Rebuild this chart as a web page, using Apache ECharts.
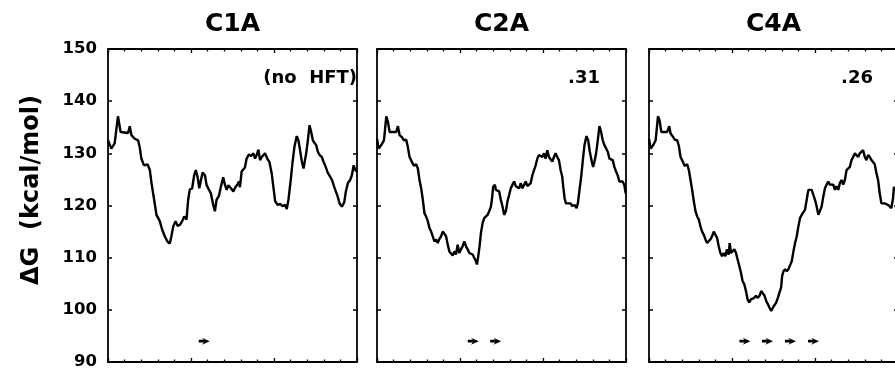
<!DOCTYPE html>
<html><head><meta charset="utf-8">
<script src="https://cdn.jsdelivr.net/npm/echarts@6/dist/echarts.min.js"></script>
<style>html,body{margin:0;padding:0;background:#fff}#c{width:895px;height:369px}</style>
</head><body><div id="c"></div>
<script>
// ---- data ----
const panelTitles = ['C1A', 'C2A', 'C4A'];
const panelNotes = ['(no  HFT)', '.31', '.26'];
const yName = 'ΔG  (kcal/mol)';
const yMin = 90, yMax = 150, yStep = 10;
const xMin = 0, xMax = 150;

const c1aX = [0,2.0,4.0,6.0,7.6,8.1,12.1,13.1,14.1,16.1,17.1,18.1,19.1,20.1,21.7,23.8,25.2,26.2,27.8,29.2,31.2,32.6,34.2,35.8,37.2,38.2,39.3,40.7,41.9,43.3,44.7,45.9,47.3,48.3,49.3,50.7,51.9,52.9,54.0,55.0,56.0,57.0,58.4,59.4,60.4,62.0,63.4,64.4,65.4,66.8,68.0,69.4,70.5,71.5,72.5,74.1,75.5,76.9,78.1,78.9,79.5,80.5,81.5,82.5,83.5,84.9,86.2,87.6,88.6,89.6,90.6,91.6,92.6,93.6,94.6,96.2,97.2,98.6,99.6,100.7,102.3,103.7,105.1,106.7,107.7,108.7,110.1,111.1,112.3,113.7,114.7,115.7,116.8,117.8,118.4,119.4,120.4,121.4,122.4,123.4,124.4,125.4,126.4,127.4,128.8,129.8,130.8,132.5,133.9,134.9,135.9,136.9,138.3,139.5,140.9,142.3,143.3,144.5,145.9,146.9,148.0,149.0,150];
const c1aY = [132.5,130.9,131.9,137.1,134.1,133.9,133.9,135.2,133.5,132.8,133.1,132.5,131.2,129,127.7,127.9,126.8,124.3,121.1,118.2,117,115.4,114.1,113.1,112.7,114.1,116,117,116.1,116.3,117,117.9,117.3,121.1,123.1,123.3,125.8,126.8,125.4,123.3,124.9,126.3,125.8,123.9,124.1,122.3,120.1,118.9,121.1,121.8,123.6,125.4,123.9,123,123.9,123.3,122.7,123.6,124.1,124.6,123.5,126.5,126.8,127.3,129,129.8,129.5,130,129,129.7,130.7,128.7,129.3,129,130,128.8,128.4,126.2,123.6,120.8,120.1,120.3,119.9,120.1,119.3,121.1,124.9,128.1,131.2,133.3,132.5,130.6,128.4,127.1,128.2,130,132.5,135.4,134.1,132.5,132,131.6,130.3,129.7,129.3,128.4,127.7,126.2,125.5,124.9,123.9,123,121.8,120.4,119.8,120.6,122.7,124.3,124.9,125.8,127.7,126.8,126.5];

const c2aX = [0,1,2.6,4.2,5.6,6.6,7.6,11.6,12.6,13.6,15,16.2,17.6,18.6,19.6,21,22.2,23.6,24.6,25.6,26.6,27.6,28.6,29.6,30.6,31.6,32.6,33.6,34.6,35.6,36.6,37.6,38.6,39.6,40.6,41.6,42.6,43.6,44.6,45.6,46.6,47.6,48.6,49.6,50.6,51.6,52.6,53.6,54.6,55.6,56.6,57.6,58.6,59.6,60.2,61,61.8,62.6,63.6,64.6,65.6,66.6,67.6,68.6,69.2,70,71,71.6,72.6,73.6,74.6,75.6,76.6,77.6,78.6,79.6,80.6,81.6,82.6,83.6,84.6,85.6,86.6,87.6,88.6,89.6,90.6,91.6,92.6,93.6,94.6,95.6,96.6,97.6,98.6,99.6,100.6,101.6,102.6,103.6,104.6,105.6,106.6,107.6,108.6,109.6,110.6,111.6,112.2,113,113.8,115,116.6,117.6,119,120.2,121,122,123,124,125,126.2,127.2,128.2,129.2,130.2,131,132,133,134,135,136,137,138,139,140,141,142,143,144,145,146,147,148,149,149.8];
const c2aY = [132.8,130.9,131.6,132.5,137.1,136,134.1,134.1,135.2,133.5,133.1,132.5,132.6,131.2,129.3,128.4,127.6,127.9,127.1,124.9,123.3,121.1,118.5,117.9,117,115.7,115,114.1,113.1,113.5,112.8,113.6,114.1,115,114.6,114.1,112.5,111.2,110.9,110.4,111.2,110.6,112.5,110.9,111.6,112.2,113.1,112.2,111.6,110.9,111.2,110.6,110.3,109.3,108.7,110.3,112.2,114.7,116.6,117.6,117.9,118.2,118.9,119.8,121.1,123.6,124,123,123,122.7,121.1,119.8,118.2,118.9,120.8,122,123.3,124,124.6,123.7,124,123.3,124.3,123.3,123,124.6,123.7,124,124.3,125.8,126.8,127.7,129,129.7,130,129.3,130,129,130.6,129.3,129,128.4,129.3,130,129.3,128.7,126.8,125.5,123.6,121.4,120.4,120.1,120.4,119.9,120.1,119.5,120.4,123,125.5,128.7,131.6,133.3,132.5,130.3,128.7,127.4,128.4,130,132.5,135.2,134.1,132.5,131.6,131.6,130.3,129,129.3,128.7,127.4,126.5,125.8,124.6,124.3,124.6,123.9,122.3];

const c4aX = [0,1,2.6,4,5.4,6.4,7.4,11,12.2,13,14.6,15.6,17,18,19,20.4,21.4,23,24,25,26,27,28,29,30,31,32,33,34,35,36,37,38,39,40,41,42,43,44,45,46,47,48,48.6,49.4,50.4,51.4,52.4,53.4,54.4,55.4,56.4,57.4,58.4,59.4,60.4,61.4,62.4,63.4,64.4,65.4,66.6,67.6,68.6,69.6,70.6,71.6,72.6,73.6,74.6,75.6,76.6,77.6,78.6,79.6,80.2,81,82,83,84,85,86,87,88,89,90,91,92,93,94,95,96,97,98,99,100,101,102,103,104,105,106,107,108,109,110,111,112,113,114,115,116,117,118,119,120,121,122,123,124,125,126,127,128,129,130,131,132,133,134,135,136,137,138,139,140,141,142,143,144,145,146,147,147.6];
const c4aY = [132.8,130.9,131.6,132.5,137.1,136.3,134.1,134.1,135.2,133.8,133.1,132.6,132.5,131.4,129.3,128.4,127.6,127.9,126.8,124.9,123,120.8,118.9,117.9,117.3,116,115,114.4,113.5,112.8,113.1,113.5,114.1,115,114.4,113.8,112.2,110.9,110.3,110.9,110.3,111.6,110.6,112.8,110.9,111.2,111.6,110.9,110.6,108.4,107.1,105.5,104.9,103.6,102,101.4,102,102.3,102.3,102.7,102.3,102.7,103.6,103.6,102.7,101.7,101.1,100.4,99.8,100.4,100.9,101.4,102.3,103.3,104.3,106.5,107.4,107.8,107.4,107.8,108.1,109.3,111.2,112.8,114.1,116,117.6,118.2,118.5,119.2,121.1,123,123.3,123,122.7,121.1,119.8,118.2,118.2,119.8,121.7,123.3,124,124.6,124,123.7,124,123,123.7,123,124.3,124.9,124,124.9,126.8,126.8,127.4,128.7,129.3,130,129.7,129.3,130,129.7,130.6,129.3,128.7,129.7,129.3,128.7,129,127.9,126.2,124.9,122.3,120.4,120.1,120.4,120.1,120.1,120.1,119.5,121.4,123.6];

// repeat markers (arrows): x positions along each panel, drawn at this level
const arrowsC1A = [58];
const arrowsC2A = [58, 71.5];
const arrowsC4A = [57.8, 71.4, 85.2, 99.1];
const arrowLevel = 94;

// ---- chart ----
const FONT = '"DejaVu Sans", sans-serif';
const panelsX = [c1aX, c2aX, c4aX];
const panelsY = [c1aY, c2aY, c4aY];
const panelsArrows = [arrowsC1A, arrowsC2A, arrowsC4A];
const gridLefts = [108, 377, 649];
const gridTop = 49, gridW = 249, gridH = 313;

const lineCol = '#000';
const grids = [], xAxes = [], yAxes = [], series = [], graphics = [];

gridLefts.forEach((l, i) => {
  grids.push({left: l, top: gridTop, width: gridW, height: gridH, containLabel: false, outerBoundsMode: 'none'});
  ['bottom', 'top'].forEach(pos => {
    xAxes.push({
      gridIndex: i, type: 'value', min: xMin, max: xMax, interval: 50, position: pos,
      axisLine: {show: true, onZero: false, lineStyle: {color: lineCol, width: 1.8}},
      axisTick: {show: true, inside: true, length: 4, lineStyle: {color: lineCol, width: 1.3}},
      minorTick: {show: true, splitNumber: 5, length: 2.5, lineStyle: {color: lineCol, width: 1.3}},
      axisLabel: {show: false}, splitLine: {show: false}, minorSplitLine: {show: false}
    });
  });
  ['left', 'right'].forEach(pos => {
    yAxes.push({
      gridIndex: i, type: 'value', min: yMin, max: yMax, interval: yStep, position: pos,
      axisLine: {show: true, onZero: false, lineStyle: {color: lineCol, width: 1.8}},
      axisTick: {show: true, inside: true, length: 4, lineStyle: {color: lineCol, width: 1.5}},
      axisLabel: {show: i === 0 && pos === 'left', margin: 11, color: '#000',
        fontFamily: FONT, fontWeight: 'bold', fontSize: 16.5},
      splitLine: {show: false}
    });
  });
  series.push({
    type: 'line', xAxisIndex: 2 * i, yAxisIndex: 2 * i,
    data: panelsX[i].map((x, k) => [x, panelsY[i][k]]),
    showSymbol: false, symbol: 'none', smooth: false,
    lineStyle: {color: lineCol, width: 2.4}, animation: false, silent: true
  });
  series.push({
    type: 'scatter', xAxisIndex: 2 * i, yAxisIndex: 2 * i,
    data: panelsArrows[i].map(x => [x, arrowLevel]),
    symbol: 'path://M0,3.2L5.5,3.2L3.5,0L12,5L3.5,10L5.5,6.8L0,6.8Z',
    symbolSize: [11, 7], itemStyle: {color: '#000', opacity: 1}, animation: false, silent: true
  });
  graphics.push({
    type: 'text', x: l + gridW / 2, y: 24,
    style: {text: panelTitles[i], font: 'bold 25px ' + FONT, fill: '#000',
      textAlign: 'center', textVerticalAlign: 'middle'}
  });
});

const noteRight = [357, 600, 873];
panelNotes.forEach((t, i) => {
  graphics.push({
    type: 'text', x: noteRight[i], y: 78,
    style: {text: t, font: 'bold 18px ' + FONT, fill: '#000',
      textAlign: 'right', textVerticalAlign: 'middle'}
  });
});
graphics.push({
  type: 'text', x: 32, y: 190, rotation: Math.PI / 2,
  style: {text: yName, font: 'bold 24px ' + FONT, fill: '#000',
    textAlign: 'center', textVerticalAlign: 'middle'}
});

const chart = echarts.init(document.getElementById('c'), null, {renderer: 'canvas'});
chart.setOption({
  animation: false,
  backgroundColor: '#fff',
  grid: grids, xAxis: xAxes, yAxis: yAxes, series: series, graphic: graphics
});
</script></body></html>
